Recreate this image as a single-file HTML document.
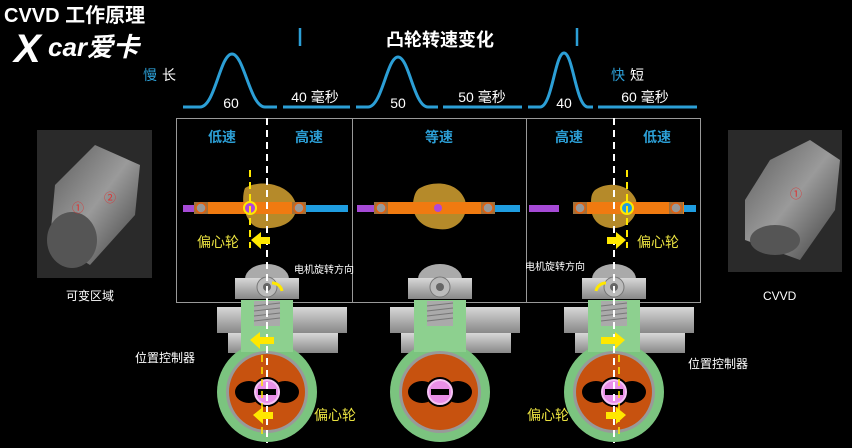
<!DOCTYPE html>
<html><head><meta charset="utf-8"><style>
body{margin:0;background:#000;width:852px;height:443px;overflow:hidden}
text{font-family:"Liberation Sans","Noto Sans CJK SC",sans-serif}
</style></head><body>
<svg width="852" height="443" viewBox="0 0 852 443" xmlns="http://www.w3.org/2000/svg">
<defs>
<linearGradient id="ph" x1="0" y1="0" x2="1" y2="1"><stop offset="0" stop-color="#5a5a5a"/><stop offset="0.5" stop-color="#9a9a9a"/><stop offset="1" stop-color="#3a3a3a"/></linearGradient>
<linearGradient id="gr" x1="0" y1="0" x2="0" y2="1"><stop offset="0" stop-color="#d8d8d8"/><stop offset="1" stop-color="#888"/></linearGradient>
<g id="mech">
  <rect x="-50" y="307" width="25" height="26" fill="url(#gr)"/>
  <rect x="25" y="307" width="55" height="26" fill="url(#gr)"/>
  <rect x="-39" y="333" width="14" height="20" fill="url(#gr)"/>
  <rect x="25" y="333" width="46" height="20" fill="url(#gr)"/>
  <circle cx="0" cy="392" r="50" fill="#7bc47f"/>
  <rect x="-26" y="300" width="52" height="52" fill="#8dd08f"/>
  <rect x="-13" y="301" width="26" height="25" fill="#aaa"/>
  <g stroke="#777" stroke-width="1"><line x1="-13" y1="306" x2="13" y2="303"/><line x1="-13" y1="311" x2="13" y2="308"/><line x1="-13" y1="316" x2="13" y2="313"/><line x1="-13" y1="321" x2="13" y2="318"/></g>
  <circle cx="0" cy="392" r="41" fill="#999"/>
  <circle cx="0" cy="392" r="38" fill="#c7520f"/>
  <ellipse cx="-18" cy="392" rx="14" ry="11" fill="#000"/>
  <ellipse cx="18" cy="392" rx="14" ry="11" fill="#000"/>
  <circle cx="0" cy="392" r="15" fill="#000"/>
  <circle cx="0" cy="392" r="12" fill="#e98fe8" stroke="#f5c3f5" stroke-width="2"/>
  <rect x="-9" y="389" width="18" height="6" fill="#000"/>
  <path d="M-22 279 a22 15 0 0 1 44 0 z" fill="#aaa"/>
  <rect x="-32" y="278" width="64" height="21" fill="url(#gr)"/>
  <circle cx="0" cy="287" r="10" fill="#bbb" stroke="#777"/>
  <circle cx="0" cy="287" r="4" fill="#666"/>
</g>
<g id="cam">
  <rect x="-17" y="-6" width="14" height="12" fill="#a0703a"/>
  <circle cx="-10" cy="0" r="5" fill="#999" stroke="#e06010" stroke-width="1.5"/>
</g>
</defs>

<text x="4" y="22" fill="#fff" font-size="20" font-weight="bold">CVVD 工作原理</text>
<text x="14" y="62" fill="#fff" font-size="40" font-weight="bold" font-style="italic">X</text>
<text x="48" y="56" fill="#fff" font-size="26" font-weight="bold" font-style="italic">car爱卡</text>
<text x="143" y="80" fill="#2c9fd6" font-size="14">慢</text><text x="162" y="80" fill="#fff" font-size="14">长</text>
<text x="611" y="80" fill="#2c9fd6" font-size="14">快</text><text x="630" y="80" fill="#fff" font-size="14">短</text>
<text x="440" y="46" fill="#fff" font-size="18" font-weight="bold" text-anchor="middle">凸轮转速变化</text>
<line x1="300" y1="28" x2="300" y2="46" stroke="#2c9fd6" stroke-width="2.5"/>
<line x1="577" y1="28" x2="577" y2="46" stroke="#2c9fd6" stroke-width="2.5"/>
<g fill="none" stroke="#2c9fd6" stroke-width="3">
<path d="M183 107 H200 C215 107 220 54 232 54 C244 54 250 107 265 107 H277"/>
<path d="M283 107 H350"/>
<path d="M356 107 H368 C382 107 387 57 398 57 C409 57 414 107 428 107 H438"/>
<path d="M443 107 H522"/>
<path d="M528 107 H540 C552 107 555 53 564 53 C573 53 576 107 588 107 H593"/>
<path d="M598 107 H697"/>
</g>
<g fill="#fff" font-size="14" text-anchor="middle">
<text x="231" y="108">60</text><text x="315" y="102">40 毫秒</text>
<text x="398" y="108">50</text><text x="482" y="102">50 毫秒</text>
<text x="564" y="108">40</text><text x="645" y="102">60 毫秒</text>
</g>

<rect x="176.5" y="118.5" width="524" height="184" fill="none" stroke="#999"/>
<line x1="352.5" y1="118" x2="352.5" y2="302" stroke="#999"/>
<line x1="526.5" y1="118" x2="526.5" y2="302" stroke="#999"/>
<g fill="#2c9fd6" font-size="14" font-weight="bold" text-anchor="middle">
<text x="222" y="142">低速</text><text x="309" y="142">高速</text><text x="439" y="142">等速</text>
<text x="569" y="142">高速</text><text x="657" y="142">低速</text>
</g>

<rect x="183" y="205" width="30" height="7" fill="#a64ad6"/>
<rect x="300" y="205" width="48" height="7" fill="#1f9de0"/>
<path d="M245 188 C262 178 292 185 296 205 C298 222 280 230 260 228 C245 226 240 200 245 188z" fill="#b58a2a"/>
<rect x="196" y="202" width="108" height="12" fill="#f07a10"/>
<use href="#cam" x="211" y="208"/><use href="#cam" x="309" y="208"/>
<circle cx="250" cy="208" r="6" fill="#b048d8" stroke="#ffe800" stroke-width="2"/>

<rect x="357" y="205" width="30" height="7" fill="#a64ad6"/>
<rect x="490" y="205" width="30" height="7" fill="#1f9de0"/>
<path d="M420 188 C435 180 458 182 465 200 C470 218 455 232 438 229 C420 228 412 215 413 203 C414 195 416 190 420 188z" fill="#b58a2a"/>
<rect x="374" y="202" width="120" height="12" fill="#f07a10"/>
<use href="#cam" x="391" y="208"/><use href="#cam" x="498" y="208"/>
<circle cx="438" cy="208" r="4" fill="#b048d8"/>

<rect x="529" y="205" width="30" height="7" fill="#a64ad6"/>
<rect x="680" y="205" width="16" height="7" fill="#1f9de0"/>
<path d="M595 190 C610 180 630 185 636 200 C640 218 625 230 610 228 C595 226 590 215 591 203 C591 196 592 193 595 190z" fill="#b58a2a"/>
<rect x="574" y="202" width="110" height="12" fill="#f07a10"/>
<use href="#cam" x="590" y="208"/><use href="#cam" x="686" y="208"/>
<circle cx="627" cy="208" r="6" fill="#1f9de0" stroke="#ffe800" stroke-width="2"/>

<use href="#mech" x="267" y="0"/>
<use href="#mech" x="440" y="0"/>
<use href="#mech" x="614" y="0"/>

<g stroke-dasharray="7,5" stroke-width="2">
<line x1="267" y1="118" x2="267" y2="443" stroke="#fff"/>
<line x1="614" y1="118" x2="614" y2="443" stroke="#fff"/>
<line x1="250" y1="170" x2="250" y2="248" stroke="#ffe800"/>
<line x1="627" y1="170" x2="627" y2="248" stroke="#ffe800"/>
<line x1="262" y1="355" x2="262" y2="435" stroke="#ffe800" stroke-width="1.5"/>
<line x1="619" y1="355" x2="619" y2="435" stroke="#ffe800" stroke-width="1.5"/>
</g>
<g fill="#ffe800">
<path d="M251 240 l10 -8 v5 h9 v7 h-9 v5z"/>
<path d="M250 340 l10 -8 v5 h14 v7 h-14 v5z"/>
<path d="M253 415 l10 -8 v5 h10 v7 h-10 v5z"/>
<path d="M626 240 l-10 -8 v5 h-9 v7 h9 v5z"/>
<path d="M625 340 l-10 -8 v5 h-14 v7 h14 v5z"/>
<path d="M626 415 l-10 -8 v5 h-10 v7 h10 v5z"/>
</g>
<path d="M272 283 a10 10 0 0 1 10 8" stroke="#ffe800" stroke-width="3" fill="none"/>
<path d="M606 283 a10 10 0 0 0 -10 8" stroke="#ffe800" stroke-width="3" fill="none"/>
<g fill="#e8e040" font-size="14">
<text x="197" y="247">偏心轮</text><text x="637" y="247">偏心轮</text>
<text x="314" y="420">偏心轮</text><text x="527" y="420">偏心轮</text>
</g>
<g fill="#fff" font-size="10">
<text x="294" y="273">电机旋转方向</text><text x="525" y="270">电机旋转方向</text>
</g>
<g fill="#fff" font-size="12">
<text x="135" y="362">位置控制器</text><text x="688" y="368">位置控制器</text>
<text x="66" y="300">可变区域</text><text x="763" y="300">CVVD</text>
</g>

<rect x="37" y="130" width="115" height="148" fill="#2a2a2a"/>
<path d="M55 185 L95 145 L140 165 L135 215 L90 265 L50 240z" fill="url(#ph)"/>
<ellipse cx="72" cy="240" rx="25" ry="28" fill="#555"/>
<text x="72" y="212" fill="#d33" font-size="12">①</text><text x="104" y="202" fill="#d33" font-size="12">②</text>
<rect x="728" y="130" width="114" height="142" fill="#2a2a2a"/>
<path d="M770 160 L810 140 L840 160 L835 210 L800 260 L745 240 L745 200z" fill="url(#ph)"/>
<ellipse cx="775" cy="240" rx="25" ry="15" fill="#555"/>
<text x="790" y="198" fill="#d33" font-size="12">①</text>
</svg>
</body></html>
